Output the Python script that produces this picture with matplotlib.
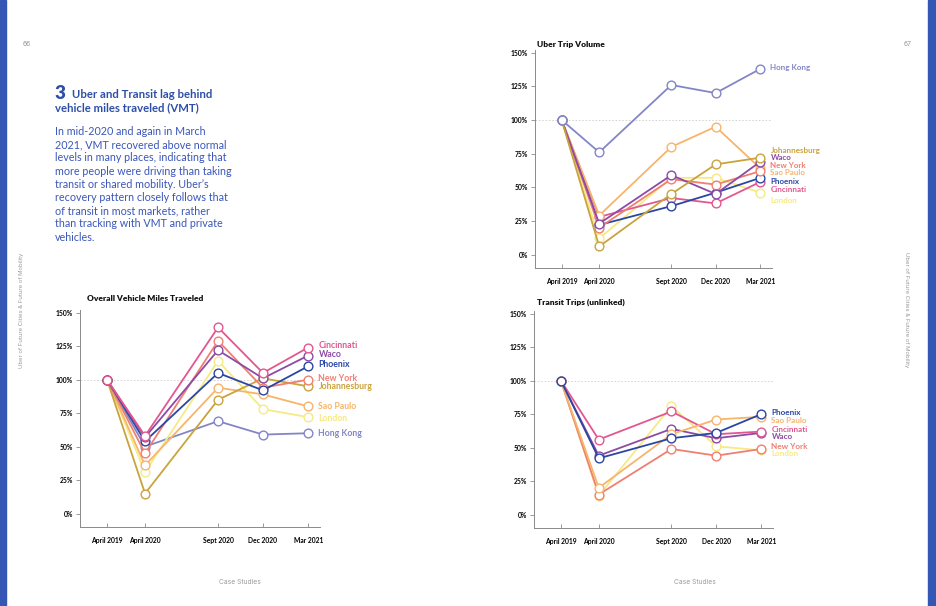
import matplotlib.pyplot as plt
from matplotlib.patches import Rectangle

plt.rcParams['font.family'] = ['Lato', 'DejaVu Sans']

# data
periods = ['April 2019', 'April 2020', 'Sept 2020', 'Dec 2020', 'Mar 2021']
period_pos = [0, 1, 2.92, 4.1, 5.29]
y_ticks = [0, 25, 50, 75, 100, 125, 150]

vmt = {
    'Cincinnati':   [100, 58, 139, 105, 124],
    'Waco':         [100, 57, 122, 101, 118],
    'Phoenix':      [100, 54, 105, 92, 110],
    'New York':     [100, 45, 129, 94, 100],
    'Johannesburg': [100, 15, 85, 101, 95],
    'Sao Paulo':    [100, 36, 94, 89, 80],
    'London':       [100, 31, 114, 78, 72],
    'Hong Kong':    [100, 50, 69, 59, 60],
}
uber = {
    'Hong Kong':    [100, 76, 126, 120, 138],
    'Johannesburg': [100, 6, 45, 67, 72],
    'Waco':         [100, 23, 59, 45, 69],
    'New York':     [100, 20, 56, 52, 62],
    'Sao Paulo':    [100, 29, 80, 95, 64],
    'Phoenix':      [100, 22, 36, 46, 57],
    'Cincinnati':   [100, 28, 42, 38, 54],
    'London':       [100, 12, 57, 57, 46],
}
transit = {
    'Phoenix':    [100, 42, 57, 61, 75],
    'Sao Paulo':  [100, 20, 60, 71, 73],
    'Cincinnati': [100, 56, 77, 60, 62],
    'Waco':       [100, 44, 64, 57, 61],
    'New York':   [100, 15, 49, 44, 49],
    'London':     [100, 14, 81, 51, 48],
}

colors = {
    'Cincinnati': '#E2578F',
    'Waco': '#8B4BA6',
    'Phoenix': '#2B46A3',
    'New York': '#F07F72',
    'Johannesburg': '#C9A33C',
    'Sao Paulo': '#F6B56B',
    'London': '#F6EA84',
    'Hong Kong': '#8386C6',
}

# where the city names sit next to each chart
vmt_label_y = {'Cincinnati': 125.5, 'Waco': 118.8, 'Phoenix': 111.4, 'New York': 101,
               'Johannesburg': 95, 'Sao Paulo': 80.2, 'London': 71.3, 'Hong Kong': 60.1}
uber_label_y = {'Hong Kong': 139, 'Johannesburg': 77.2, 'Waco': 71.8, 'New York': 66.4,
                'Sao Paulo': 61.0, 'Phoenix': 54, 'Cincinnati': 48.6, 'London': 39.9}
transit_label_y = {'Phoenix': 76.5, 'Sao Paulo': 70.5, 'Cincinnati': 63.8, 'Waco': 58,
                   'New York': 51.2, 'London': 45.3}

W, H = 936, 606
fig = plt.figure(figsize=(W / 100, H / 100), dpi=100)
fig.patch.set_facecolor('white')


def fx(x):
    return x / W


def fy(y):
    return 1 - y / H


blue = '#3456B5'
fig.patches.append(Rectangle((0, 0), fx(6), 1, transform=fig.transFigure, color=blue))
fig.patches.append(Rectangle((fx(928), 0), 1, 1, transform=fig.transFigure, color=blue))

grey = '#9a9a9a'
side = ['Inter', 'DejaVu Sans']
fig.text(fx(27), fy(44), '66', fontsize=4.8, color=grey, ha='center', va='center', family=side)
fig.text(fx(908), fy(44), '67', fontsize=4.8, color=grey, ha='center', va='center', family=side)
fig.text(fx(22), fy(310), 'Uber of Future Cities & Future of Mobility', fontsize=4.3,
         color=grey, rotation=90, ha='center', va='center', family=side)
fig.text(fx(907), fy(310), 'Uber of Future Cities & Future of Mobility', fontsize=4.3,
         color=grey, rotation=270, ha='center', va='center', family=side)
fig.text(fx(240), fy(582), 'Case Studies', fontsize=4.8, color=grey, ha='center', va='center', family=side)
fig.text(fx(695), fy(582), 'Case Studies', fontsize=4.8, color=grey, ha='center', va='center', family=side)

# heading + body
head_col = '#2E4FA8'
fig.text(fx(55), fy(99), '3', fontsize=13.5, fontweight='heavy', color=head_col, ha='left', va='baseline')
fig.text(fx(72), fy(98), 'Uber and Transit lag behind', fontsize=8.2, fontweight='bold',
         color=head_col, ha='left', va='baseline')
fig.text(fx(55), fy(111), 'vehicle miles traveled (VMT)', fontsize=8.2, fontweight='bold',
         color=head_col, ha='left', va='baseline')
body = ['In mid-2020 and again in March',
        '2021, VMT recovered above normal',
        'levels in many places, indicating that',
        'more people were driving than taking',
        'transit or shared mobility. Uber\u2019s',
        'recovery pattern closely follows that',
        'of transit in most markets, rather',
        'than tracking with VMT and private',
        'vehicles.']
for i, line in enumerate(body):
    fig.text(fx(55), fy(135 + i * 13.2), line, fontsize=7.75, color='#3A57B8',
             ha='left', va='baseline')


def draw_chart(rect, title, title_xy, data, label_y, label_size):
    ax = fig.add_axes(rect)
    for name in reversed(list(data)):
        ax.plot(period_pos, data[name], color=colors[name], lw=1.3, marker='o', ms=6.3,
                mfc='white', mec=colors[name], mew=1.0, zorder=3)
    ax.axhline(100, color='#cfcfcf', lw=0.6, ls=(0, (2, 2)), zorder=1)
    ax.set_xlim(-0.71, 5.6)
    ax.set_ylim(-10, 152)
    for s in ['top', 'right']:
        ax.spines[s].set_visible(False)
    for s in ['left', 'bottom']:
        ax.spines[s].set_color('#8a8a8a')
        ax.spines[s].set_linewidth(0.7)
    ax.set_yticks(y_ticks)
    ax.set_yticklabels([f'{v}%' for v in y_ticks], fontsize=4.9, fontweight='bold')
    ax.set_xticks(period_pos)
    ax.set_xticklabels(periods, fontsize=4.9, fontweight='bold')
    ax.tick_params(axis='y', length=3, width=0.6, color='#8a8a8a', pad=2)
    ax.tick_params(axis='x', direction='in', length=3, width=0.6, color='#8a8a8a', pad=7)
    ax.set_facecolor('none')
    for name, yv in label_y.items():
        ax.text(5.56, yv, name, color=colors[name], fontsize=label_size, fontweight='bold',
                ha='left', va='center', clip_on=False)
    fig.text(fx(title_xy[0]), fy(title_xy[1]), title, fontsize=6, fontweight='heavy',
             color='#111111', ha='left', va='center')
    return ax


draw_chart([fx(80), fy(527), fx(240), 217 / H], 'Overall Vehicle Miles Traveled',
           (87, 298), vmt, vmt_label_y, 6.3)
draw_chart([fx(535), fy(268), fx(237), 218 / H], 'Uber Trip Volume',
           (537, 44), uber, uber_label_y, 5.8)
draw_chart([fx(534), fy(528), fx(239), 217 / H], 'Transit Trips (unlinked)',
           (537, 302), transit, transit_label_y, 5.9)

fig.savefig('out.png', dpi=100)
